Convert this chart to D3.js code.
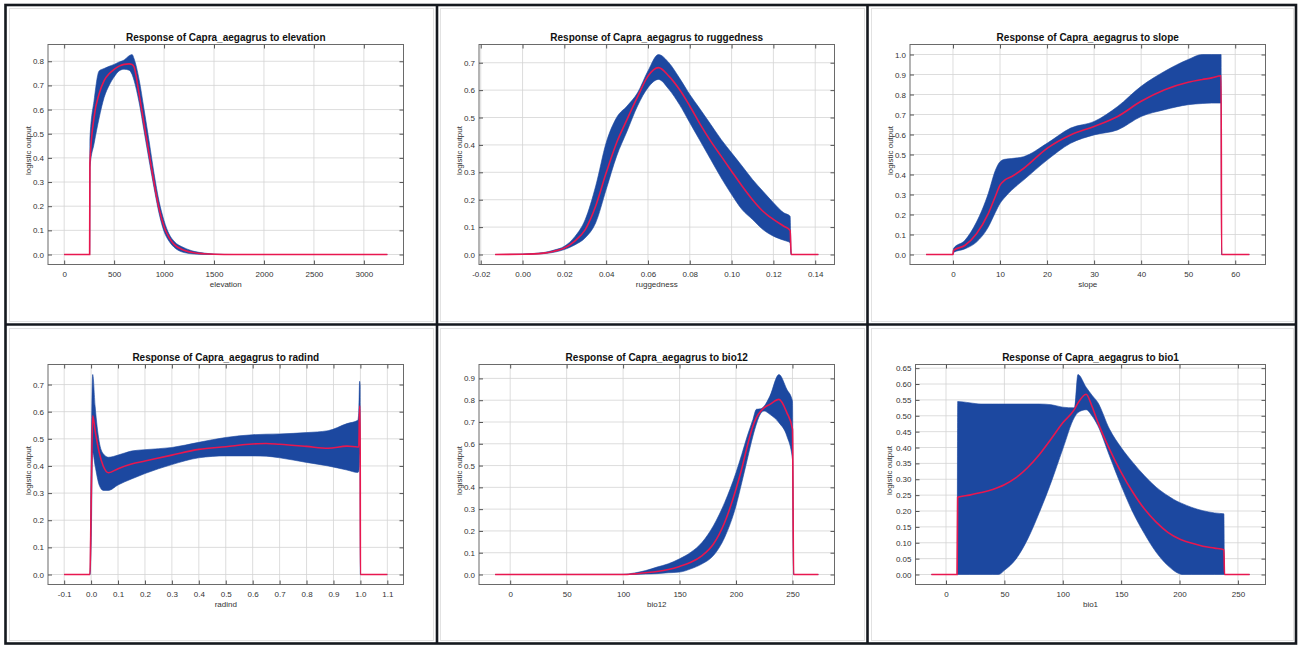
<!DOCTYPE html>
<html>
<head>
<meta charset="utf-8">
<script src="https://cdn.jsdelivr.net/npm/d3@7"></script>
<style>
body { margin: 0; background: #fff; }
svg text { font-family: "Liberation Sans", Arial, sans-serif; }
</style>
</head>
<body>
<svg id="chart" width="1301" height="646"></svg>
<script>
////// data: x, mean (red), mean-sd / mean+sd (blue band) //////

var elevX     = [0, 255, 258, 300, 350, 400, 450, 500, 550, 600, 650, 680, 700, 750, 800, 850, 900, 950, 1000, 1050, 1100, 1200, 1300, 1400, 1500, 1700, 2000, 2500, 3000, 3235];
var elevMean  = [0, 0, 0.38, 0.57, 0.665, 0.72, 0.748, 0.766, 0.78, 0.787, 0.789, 0.787, 0.776, 0.665, 0.54, 0.418, 0.297, 0.19, 0.115, 0.07, 0.042, 0.018, 0.007, 0.003, 0.001, 0, 0, 0, 0, 0];
var elevLower = [0, 0, 0.36, 0.46, 0.565, 0.65, 0.70, 0.735, 0.76, 0.767, 0.763, 0.745, 0.72, 0.63, 0.51, 0.39, 0.275, 0.17, 0.095, 0.055, 0.03, 0.008, 0.002, 0, 0, 0, 0, 0, 0, 0];
var elevUpper = [0, 0, 0.48, 0.64, 0.76, 0.77, 0.779, 0.787, 0.797, 0.805, 0.823, 0.828, 0.81, 0.725, 0.6, 0.47, 0.335, 0.22, 0.14, 0.085, 0.055, 0.028, 0.013, 0.006, 0.002, 0, 0, 0, 0, 0];
var elevXTicks = [0, 500, 1000, 1500, 2000, 2500, 3000];
var elevYTicks = [0, 0.1, 0.2, 0.3, 0.4, 0.5, 0.6, 0.7, 0.8];

var rugX     = [-0.0131, 0, 0.01, 0.015, 0.02, 0.025, 0.03, 0.035, 0.04, 0.045, 0.05, 0.055, 0.06, 0.065, 0.07, 0.075, 0.08, 0.085, 0.09, 0.095, 0.1, 0.105, 0.11, 0.115, 0.12, 0.125, 0.128, 0.1285, 0.1415];
var rugMean  = [0, 0.001, 0.005, 0.012, 0.024, 0.049, 0.091, 0.177, 0.298, 0.408, 0.493, 0.575, 0.651, 0.682, 0.651, 0.603, 0.542, 0.475, 0.414, 0.359, 0.304, 0.25, 0.2, 0.158, 0.128, 0.103, 0.088, 0, 0];
var rugLower = [0, 0, 0.003, 0.008, 0.018, 0.035, 0.061, 0.116, 0.237, 0.359, 0.45, 0.542, 0.609, 0.639, 0.603, 0.548, 0.481, 0.414, 0.347, 0.28, 0.219, 0.164, 0.128, 0.091, 0.067, 0.052, 0.043, 0, 0];
var rugUpper = [0, 0.002, 0.007, 0.016, 0.03, 0.065, 0.128, 0.25, 0.408, 0.5, 0.542, 0.59, 0.67, 0.73, 0.7, 0.645, 0.584, 0.53, 0.475, 0.42, 0.371, 0.323, 0.274, 0.231, 0.189, 0.152, 0.14, 0, 0];
var rugXTicks = [-0.02, 0, 0.02, 0.04, 0.06, 0.08, 0.1, 0.12, 0.14];
var rugYTicks = [0, 0.1, 0.2, 0.3, 0.4, 0.5, 0.6, 0.7];

var slopeX     = [-5.7, 0, 0.1, 2.5, 5, 7.5, 9, 10, 11, 12.5, 15, 20, 25, 30, 35, 40, 45, 50, 53, 55, 57, 57.1, 63];
var slopeMean  = [0, 0, 0.02, 0.045, 0.104, 0.204, 0.29, 0.347, 0.372, 0.39, 0.43, 0.531, 0.598, 0.64, 0.69, 0.766, 0.824, 0.861, 0.875, 0.883, 0.894, 0, 0];
var slopeLower = [0, 0, 0.01, 0.028, 0.062, 0.137, 0.21, 0.255, 0.285, 0.322, 0.372, 0.472, 0.556, 0.598, 0.623, 0.69, 0.724, 0.749, 0.755, 0.757, 0.757, 0, 0];
var slopeUpper = [0, 0, 0.03, 0.07, 0.162, 0.305, 0.42, 0.464, 0.476, 0.48, 0.489, 0.556, 0.632, 0.665, 0.74, 0.841, 0.916, 0.975, 1.0, 1.0, 1.0, 0, 0];
var slopeXTicks = [0, 10, 20, 30, 40, 50, 60];
var slopeYTicks = [0, 0.1, 0.2, 0.3, 0.4, 0.5, 0.6, 0.7, 0.8, 0.9, 1.0];

var radX     = [-0.1, -0.004, 0, 0.006, 0.015, 0.03, 0.045, 0.065, 0.1, 0.15, 0.2, 0.3, 0.4, 0.5, 0.6, 0.65, 0.7, 0.8, 0.88, 0.95, 0.99, 0.994, 0.997, 0.999, 1.0, 1.1];
var radMean  = [0, 0, 0.25, 0.585, 0.53, 0.45, 0.40, 0.375, 0.39, 0.407, 0.418, 0.44, 0.461, 0.471, 0.481, 0.483, 0.48, 0.472, 0.465, 0.473, 0.47, 0.47, 0.62, 0.62, 0, 0];
var radLower = [0, 0, 0.1, 0.45, 0.4, 0.33, 0.31, 0.31, 0.33, 0.352, 0.372, 0.405, 0.43, 0.437, 0.437, 0.436, 0.43, 0.413, 0.4, 0.385, 0.376, 0.38, 0.42, 0.45, 0, 0];
var radUpper = [0, 0, 0.4, 0.737, 0.62, 0.49, 0.445, 0.432, 0.44, 0.455, 0.46, 0.468, 0.487, 0.505, 0.515, 0.517, 0.518, 0.523, 0.53, 0.556, 0.568, 0.6, 0.712, 0.70, 0, 0];
var radXTicks = [-0.1, 0, 0.1, 0.2, 0.3, 0.4, 0.5, 0.6, 0.7, 0.8, 0.9, 1.0, 1.1];
var radYTicks = [0, 0.1, 0.2, 0.3, 0.4, 0.5, 0.6, 0.7];

var b12X     = [-13.3, 100, 110, 120, 130, 140, 150, 160, 170, 180, 190, 200, 205, 210, 215, 218, 222, 225, 230, 238, 245, 250, 251, 272.9];
var b12Mean  = [0, 0, 0.003, 0.008, 0.014, 0.023, 0.037, 0.056, 0.087, 0.14, 0.24, 0.392, 0.484, 0.59, 0.682, 0.72, 0.75, 0.766, 0.781, 0.804, 0.743, 0.667, 0, 0];
var b12Lower = [0, 0, 0, 0.002, 0.004, 0.008, 0.011, 0.026, 0.049, 0.087, 0.171, 0.316, 0.42, 0.529, 0.636, 0.69, 0.74, 0.75, 0.735, 0.697, 0.636, 0.529, 0, 0];
var b12Upper = [0, 0.001, 0.007, 0.018, 0.034, 0.049, 0.072, 0.102, 0.148, 0.224, 0.331, 0.468, 0.55, 0.636, 0.712, 0.758, 0.761, 0.773, 0.819, 0.918, 0.85, 0.796, 0, 0];
var b12XTicks = [0, 50, 100, 150, 200, 250];
var b12YTicks = [0, 0.1, 0.2, 0.3, 0.4, 0.5, 0.6, 0.7, 0.8, 0.9];

var b1X     = [-12.5, 9.5, 10, 20, 30, 40, 45, 50, 60, 70, 80, 90, 100, 110, 113, 120, 125, 130, 140, 150, 160, 170, 180, 190, 200, 202, 210, 220, 230, 238, 238.5, 260];
var b1Mean  = [0, 0, 0.243, 0.25, 0.258, 0.268, 0.275, 0.283, 0.305, 0.337, 0.378, 0.427, 0.478, 0.52, 0.54, 0.568, 0.53, 0.48, 0.395, 0.322, 0.259, 0.206, 0.165, 0.133, 0.112, 0.109, 0.099, 0.089, 0.083, 0.078, 0, 0];
var b1Lower = [0, 0, 0, 0, 0, 0, 0, 0.013, 0.049, 0.112, 0.196, 0.29, 0.395, 0.495, 0.51, 0.519, 0.5, 0.469, 0.374, 0.28, 0.196, 0.128, 0.07, 0.028, 0.002, 0, 0, 0, 0, 0, 0, 0];
var b1Upper = [0, 0, 0.545, 0.541, 0.537, 0.537, 0.537, 0.537, 0.537, 0.537, 0.537, 0.535, 0.527, 0.525, 0.63, 0.59, 0.565, 0.542, 0.458, 0.4, 0.353, 0.311, 0.275, 0.248, 0.227, 0.224, 0.212, 0.201, 0.194, 0.191, 0, 0];
var b1XTicks = [0, 50, 100, 150, 200, 250];
var b1YTicks = [0, 0.05, 0.1, 0.15, 0.2, 0.25, 0.3, 0.35, 0.4, 0.45, 0.5, 0.55, 0.6, 0.65];

////// layout //////

const COL_X = [6, 437, 868];   // left edge of each cell
const ROW_Y = [5, 325];        // top edge of each cell
const CELL_W = [431, 431, 429];
const CELL_H = [320, 319];

const BAND_COLOR = "#1c48a0";
const MEAN_COLOR = "#e8174f";

var panels = [
    {name: "elevation",  x: elevX,  mean: elevMean,  lower: elevLower,  upper: elevUpper,  xTicks: elevXTicks,  yTicks: elevYTicks,  xDec: 0, yDec: 1, col: 0, row: 0},
    {name: "ruggedness", x: rugX,   mean: rugMean,   lower: rugLower,   upper: rugUpper,   xTicks: rugXTicks,   yTicks: rugYTicks,   xDec: 2, yDec: 1, col: 1, row: 0},
    {name: "slope",      x: slopeX, mean: slopeMean, lower: slopeLower, upper: slopeUpper, xTicks: slopeXTicks, yTicks: slopeYTicks, xDec: 0, yDec: 1, col: 2, row: 0},
    {name: "radind",     x: radX,   mean: radMean,   lower: radLower,   upper: radUpper,   xTicks: radXTicks,   yTicks: radYTicks,   xDec: 1, yDec: 1, col: 0, row: 1},
    {name: "bio12",      x: b12X,   mean: b12Mean,   lower: b12Lower,   upper: b12Upper,   xTicks: b12XTicks,   yTicks: b12YTicks,   xDec: 0, yDec: 1, col: 1, row: 1},
    {name: "bio1",       x: b1X,    mean: b1Mean,    lower: b1Lower,    upper: b1Upper,    xTicks: b1XTicks,    yTicks: b1YTicks,    xDec: 0, yDec: 2, col: 2, row: 1, wide: true}
];

var svg = d3.select("#chart");

svg.append("rect").attr("width", 1301).attr("height", 646).attr("fill", "#fff");

panels.forEach(drawPanel);
drawBorders();

function drawPanel(p) {
    var cx = COL_X[p.col], cy = ROW_Y[p.row];
    var left = cx + (p.wide ? 47.5 : 42),
        right = cx + 397.5,
        top = cy + 39.5,
        bottom = cy + 259.5;

    // faint window frame around each screenshot
    svg.append("rect")
        .attr("x", cx + 3.5).attr("y", cy + 3.5)
        .attr("width", CELL_W[p.col] - 7).attr("height", CELL_H[p.row] - 7)
        .attr("fill", "none").attr("stroke", "#e2e2e2").attr("stroke-width", 1);

    // axis range = data range padded by 5% on each side
    var xExt = d3.extent(p.x), yMax = d3.max(p.upper);
    var xPad = (xExt[1] - xExt[0]) * 0.05, yPad = yMax * 0.05;

    var x = d3.scaleLinear().domain([xExt[0] - xPad, xExt[1] + xPad]).range([left, right]);
    var y = d3.scaleLinear().domain([-yPad, yMax + yPad]).range([bottom, top]);

    var g = svg.append("g");

    // grid
    g.selectAll(".gx").data(p.xTicks).enter().append("line")
        .attr("x1", function(d) { return x(d); }).attr("x2", function(d) { return x(d); })
        .attr("y1", top).attr("y2", bottom)
        .attr("stroke", "#d4d4d4").attr("stroke-width", 0.8);
    g.selectAll(".gy").data(p.yTicks).enter().append("line")
        .attr("x1", left).attr("x2", right)
        .attr("y1", function(d) { return y(d); }).attr("y2", function(d) { return y(d); })
        .attr("stroke", "#d4d4d4").attr("stroke-width", 0.8);

    var pts = p.x.map(function(v, i) {
        return {x: v, mean: p.mean[i], lo: p.lower[i], hi: p.upper[i]};
    });

    var band = d3.area()
        .x(function(d) { return x(d.x); })
        .y0(function(d) { return y(d.lo); })
        .y1(function(d) { return y(d.hi); })
        .curve(d3.curveMonotoneX);

    var line = d3.line()
        .x(function(d) { return x(d.x); })
        .y(function(d) { return y(d.mean); })
        .curve(d3.curveMonotoneX);

    g.append("path").datum(pts)
        .attr("d", band)
        .attr("fill", BAND_COLOR)
        .attr("stroke", BAND_COLOR).attr("stroke-width", 0.6);

    g.append("path").datum(pts)
        .attr("d", line)
        .attr("fill", "none")
        .attr("stroke", MEAN_COLOR).attr("stroke-width", 1.6);

    // frame
    g.append("rect")
        .attr("x", left).attr("y", top)
        .attr("width", right - left).attr("height", bottom - top)
        .attr("fill", "none").attr("stroke", "#6a6a6a").attr("stroke-width", 1);

    var fx = function(d) { return d.toFixed(p.xDec); };
    var fy = function(d) { return d.toFixed(p.yDec); };

    // axes: inward ticks on all four sides, labels bottom and left
    var axB = g.append("g").attr("transform", "translate(0," + bottom + ")")
        .call(d3.axisBottom(x).tickValues(p.xTicks).tickFormat(fx).tickSizeInner(-4).tickSizeOuter(0).tickPadding(7));
    var axT = g.append("g").attr("transform", "translate(0," + top + ")")
        .call(d3.axisTop(x).tickValues(p.xTicks).tickFormat("").tickSizeInner(-4).tickSizeOuter(0));
    var axL = g.append("g").attr("transform", "translate(" + left + ",0)")
        .call(d3.axisLeft(y).tickValues(p.yTicks).tickFormat(fy).tickSizeInner(-4).tickSizeOuter(0).tickPadding(4));
    var axR = g.append("g").attr("transform", "translate(" + right + ",0)")
        .call(d3.axisRight(y).tickValues(p.yTicks).tickFormat("").tickSizeInner(-4).tickSizeOuter(0));

    [axB, axT, axL, axR].forEach(function(a) {
        a.select(".domain").remove();
        a.selectAll("line").attr("stroke", "#555");
        a.selectAll("text")
            .attr("font-family", "Liberation Sans, Arial, sans-serif")
            .attr("font-size", 8)
            .attr("fill", "#333");
    });

    // title
    g.append("text")
        .attr("x", (left + right) / 2).attr("y", top - 3.5)
        .attr("text-anchor", "middle")
        .attr("font-size", 10).attr("font-weight", "bold").attr("fill", "#111")
        .text("Response of Capra_aegagrus to " + p.name);

    // axis labels
    g.append("text")
        .attr("x", (left + right) / 2).attr("y", bottom + 22.5)
        .attr("text-anchor", "middle")
        .attr("font-size", 8).attr("fill", "#333")
        .text(p.name);

    var ly = (top + bottom) / 2 - 4;
    var lx = left - (p.wide ? 26 : 19.5);
    g.append("text")
        .attr("transform", "translate(" + lx + "," + ly + ") rotate(-90)")
        .attr("text-anchor", "middle")
        .attr("dy", "0.35em")
        .attr("font-size", 8).attr("fill", "#333")
        .text("logistic output");
}

function drawBorders() {
    var b = svg.append("g")
        .attr("stroke", "#15191f").attr("stroke-width", 2.6).attr("fill", "none");
    b.append("rect").attr("x", 5.5).attr("y", 5).attr("width", 1290.5).attr("height", 638.5);
    b.append("line").attr("x1", 437).attr("x2", 437).attr("y1", 5).attr("y2", 643.5);
    b.append("line").attr("x1", 867.5).attr("x2", 867.5).attr("y1", 5).attr("y2", 643.5);
    b.append("line").attr("x1", 5.5).attr("x2", 1296).attr("y1", 324.5).attr("y2", 324.5);
}
</script>
</body>
</html>
